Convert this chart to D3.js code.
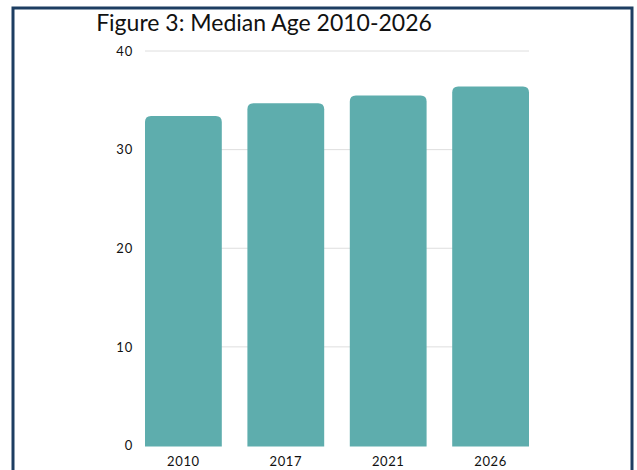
<!DOCTYPE html>
<html>
<head>
<meta charset="utf-8">
<script src="https://cdn.jsdelivr.net/npm/d3@7"></script>
<style>
  html, body { margin: 0; padding: 0; background: #ffffff; }
  svg { display: block; }
</style>
</head>
<body>
<svg id="chart" width="637" height="470"></svg>
<script>
// Median age by year
const years = ["2010", "2017", "2021", "2026"];
const medianAge = [33.4, 34.7, 35.5, 36.4];
const yTicks = [0, 10, 20, 30, 40];
const titleText = "Figure 3: Median Age 2010-2026";

const svg = d3.select("#chart");
const W = 637, H = 470;
const margin = { left: 145, right: 108, top: 51, bottom: 24.5 };

// Frame around the figure
svg.append("rect")
  .attr("x", 13).attr("y", 8)
  .attr("width", 619).attr("height", 480)
  .attr("fill", "#ffffff")
  .attr("stroke", "#1d3e62")
  .attr("stroke-width", 3);

const x = d3.scaleBand()
  .domain(years)
  .range([margin.left, W - margin.right])
  .paddingInner(0.25)
  .paddingOuter(0);

const y = d3.scaleLinear()
  .domain([0, 40])
  .range([H - margin.bottom, margin.top]);

// Title
svg.append("text")
  .attr("x", 264).attr("y", 31)
  .attr("text-anchor", "middle")
  .attr("font-family", "Lato, 'Noto Sans', sans-serif")
  .attr("font-size", 23)
  .attr("fill", "#111")
  .text(titleText);

// Gridlines
svg.append("g")
  .selectAll("line")
  .data(yTicks.filter(d => d > 0))
  .join("line")
  .attr("x1", margin.left).attr("x2", W - margin.right)
  .attr("y1", d => y(d)).attr("y2", d => y(d))
  .attr("stroke", "#dedede")
  .attr("stroke-width", 1);

// Y axis labels
const yAxis = d3.axisLeft(y).tickValues(yTicks).tickSize(0).tickPadding(12);
svg.append("g")
  .attr("transform", `translate(${margin.left},0)`)
  .call(yAxis)
  .call(g => g.select(".domain").remove())
  .call(g => g.selectAll("text")
    .attr("font-family", "Lato, 'Noto Sans', sans-serif")
    .attr("font-size", 13)
    .attr("letter-spacing", 0.8)
    .attr("fill", "#111"));

// Bars with rounded tops
const r = 6;
function barPath(d, i) {
  const x0 = x(years[i]), w = x.bandwidth();
  const yTop = y(d), yBot = y(0) + 1;
  return `M${x0},${yBot}V${yTop + r}Q${x0},${yTop} ${x0 + r},${yTop}` +
         `H${x0 + w - r}Q${x0 + w},${yTop} ${x0 + w},${yTop + r}V${yBot}Z`;
}
svg.append("g")
  .selectAll("path")
  .data(medianAge)
  .join("path")
  .attr("d", (d, i) => barPath(d, i))
  .attr("fill", "#5eadad");

// X axis labels
const xAxis = d3.axisBottom(x).tickSize(0).tickPadding(11);
svg.append("g")
  .attr("transform", `translate(0,${y(0)})`)
  .call(xAxis)
  .call(g => g.select(".domain").remove())
  .call(g => g.selectAll("text")
    .attr("font-family", "Lato, 'Noto Sans', sans-serif")
    .attr("font-size", 13)
    .attr("letter-spacing", 0.6)
    .attr("fill", "#111"));
</script>
</body>
</html>
